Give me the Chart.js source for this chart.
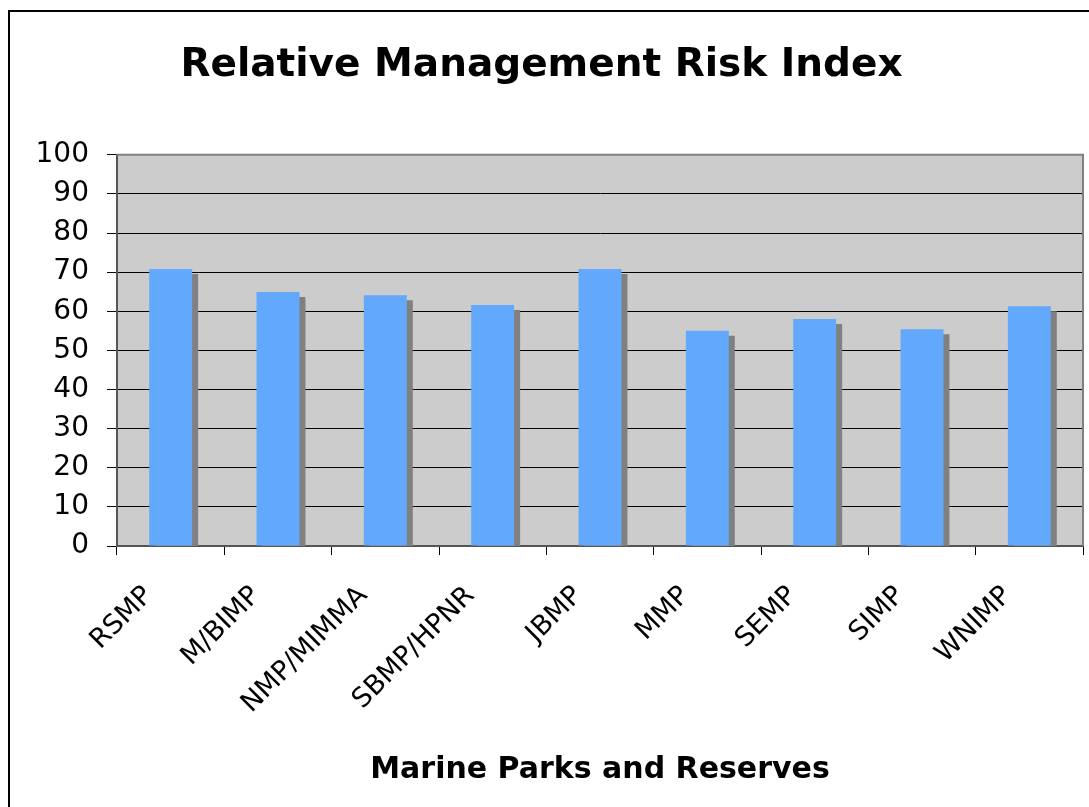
<!DOCTYPE html>
<html>
<head>
<meta charset="utf-8">
<script src="https://cdn.jsdelivr.net/npm/chart.js@4.4.1/dist/chart.umd.min.js"></script>
<style>
  html, body { margin: 0; padding: 0; background: #fff; }
  #wrap { position: relative; width: 1089px; height: 807px; overflow: hidden; }
  #frame { position: absolute; left: 8px; top: 10px; width: 1200px; height: 900px;
           border-left: 2px solid #000; border-top: 2px solid #000; }
  canvas { position: absolute; left: 0; top: 0; }
</style>
</head>
<body>
<div id="wrap">
  <div id="frame"></div>
  <canvas id="chart" width="1089" height="807"></canvas>
</div>
<script>
const parks = ["RSMP", "M/BIMP", "NMP/MIMMA", "SBMP/HPNR", "JBMP", "MMP", "SEMP", "SIMP", "WNIMP"];
const riskIndex = [70.8, 64.9, 64.1, 61.6, 70.8, 55.0, 58.0, 55.4, 61.3];
const yTicks = [0, 10, 20, 30, 40, 50, 60, 70, 80, 90, 100];

const FONT = "'DejaVu Sans', Verdana, sans-serif";

// grey plot background + grey frame on top/right
const plotArea = {
  id: "plotArea",
  beforeDraw(chart) {
    const { ctx, chartArea: a } = chart;
    ctx.save();
    ctx.fillStyle = "#cccccc";
    ctx.fillRect(a.left, a.top, a.right - a.left, a.bottom - a.top);
    ctx.restore();
  },
  afterDraw(chart) {
    const { ctx, chartArea: a } = chart;
    ctx.save();
    ctx.strokeStyle = "#808080";
    ctx.lineWidth = 2;
    ctx.beginPath();
    ctx.moveTo(a.left, a.top);
    ctx.lineTo(a.right, a.top);
    ctx.lineTo(a.right, a.bottom);
    ctx.stroke();
    ctx.restore();
  }
};

// flat drop shadow behind the bars
const barShadow = {
  id: "barShadow",
  beforeDatasetsDraw(chart) {
    const ctx = chart.ctx;
    ctx.save();
    ctx.shadowColor = "#808080";
    ctx.shadowOffsetX = 6;
    ctx.shadowOffsetY = 5;
    ctx.shadowBlur = 0;
  },
  afterDatasetsDraw(chart) {
    chart.ctx.restore();
  }
};

new Chart(document.getElementById("chart"), {
  type: "bar",
  data: {
    labels: parks,
    datasets: [{
      data: riskIndex,
      backgroundColor: "#62a8fd",
      borderWidth: 0,
      barPercentage: 0.4,
      categoryPercentage: 1.0
    }]
  },
  options: {
    responsive: false,
    animation: false,
    layout: { padding: { left: 0, right: 6, top: 0, bottom: 0 } },
    plugins: {
      legend: { display: false },
      tooltip: { enabled: false },
      title: {
        display: true,
        text: "Relative Management Risk Index",
        color: "#000",
        font: { family: FONT, size: 39, weight: "bold" },
        padding: { top: 42, bottom: 66 }
      }
    },
    scales: {
      x: {
        grid: { display: true, drawOnChartArea: false, offset: true, tickLength: 9, color: "#000" },
        border: { color: "#555", width: 2 },
        ticks: {
          autoSkip: false,
          minRotation: 45,
          maxRotation: 45,
          labelOffset: -22,
          padding: 25,
          color: "#000",
          font: { family: FONT, size: 27 }
        },
        title: {
          display: true,
          text: "Marine Parks and Reserves",
          color: "#000",
          font: { family: FONT, size: 30, weight: "bold" },
          padding: { top: 0, bottom: 19 }
        },
        afterFit(s) { s.height = 261; }
      },
      y: {
        min: 0,
        max: 100,
        afterBuildTicks(s) { s.ticks = yTicks.map(v => ({ value: v })); },
        grid: { color: "#000", lineWidth: 1, tickLength: 10, tickColor: "#000" },
        border: { color: "#555", width: 2 },
        ticks: {
          padding: 18,
          color: "#000",
          font: { family: FONT, size: 28 }
        },
        afterFit(s) { s.width = 117; }
      }
    }
  },
  plugins: [plotArea, barShadow]
});
</script>
</body>
</html>
